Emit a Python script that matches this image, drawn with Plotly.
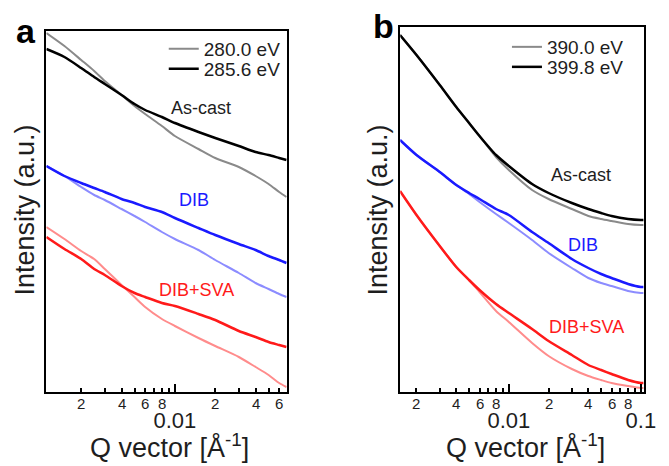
import numpy as np
import plotly.graph_objects as go

# ---------------- data (arbitrary intensity units) ----------------
q_a = [0.0011, 0.0015, 0.002, 0.0025, 0.003, 0.004, 0.005, 0.006, 0.008, 0.01,
       0.015, 0.02, 0.03, 0.04, 0.05, 0.06, 0.068]
a_ascast_280 = [359, 346, 332, 321, 311, 297, 286, 278, 266, 256, 243, 234, 225, 216, 208, 200, 195]
a_ascast_285 = [343, 335, 324, 315, 308, 297, 288, 282, 275, 269, 260, 254, 246, 240, 237, 234, 232]
a_dib_280 = [226, 216, 205, 197, 192, 183, 176, 170, 160, 153, 142, 132, 119, 109, 103, 98, 95]
a_dib_285 = [226, 216, 209, 204, 200, 193, 189, 185, 180, 174, 164, 157, 148, 142, 136, 132, 129]
a_sva_280 = [165, 153, 141, 133, 123, 107, 95, 85, 73, 66, 54, 46, 35, 25, 17, 9, 5]
a_sva_285 = [155, 143, 133, 123, 117, 106, 99, 95, 89, 86, 78, 72, 61, 55, 50, 47, 45]

q_b = [0.0015, 0.002, 0.003, 0.004, 0.005, 0.006, 0.008, 0.01, 0.015, 0.02,
       0.03, 0.04, 0.05, 0.06, 0.08, 0.1, 0.105]
b_ascast_390 = [357, 337, 307, 285, 269, 256, 235, 222, 202, 193, 183, 176, 173, 171, 168, 167, 167]
b_ascast_399 = [357, 337, 307, 285, 269, 256, 237, 226, 208, 199, 189, 183, 179, 176, 173, 172, 172]
b_dib_390 = [252, 237, 220, 207, 198, 190, 178, 169, 152, 139, 124, 114, 109, 106, 101, 99, 99]
b_dib_399 = [252, 237, 220, 207, 199, 193, 183, 177, 160, 149, 133, 124, 118, 114, 108, 105, 105]
b_sva_390 = [201, 177, 146, 125, 112, 100, 81, 70, 49, 36, 23, 16, 12, 9, 6, 4, 4]
b_sva_399 = [201, 177, 146, 125, 112, 102, 88, 79, 63, 51, 37, 27, 22, 18, 12, 9, 9]

minor_a = [0.002, 0.003, 0.004, 0.005, 0.006, 0.007, 0.008, 0.009, 0.02, 0.03, 0.04, 0.05, 0.06]
minor_b = [0.002, 0.003, 0.004, 0.005, 0.006, 0.007, 0.008, 0.009,
           0.02, 0.03, 0.04, 0.05, 0.06, 0.07, 0.08, 0.09]
lab_a_vals = [0.002, 0.004, 0.006, 0.008, 0.02, 0.04, 0.06]
lab_b_vals = [0.002, 0.004, 0.006, 0.008, 0.02, 0.04, 0.06, 0.08]
lab_a_text = ["2", "4", "6", "8", "2", "4", "6"]
lab_b_text = ["2", "4", "6", "8", "2", "4", "6", "8"]

FONT = "Arial, Liberation Sans, sans-serif"
GRAY, BLACK = "#8a8a8a", "#000000"
LBLUE, DBLUE = "#8c8cff", "#1a1aff"
LRED, DRED = "#ff8c8c", "#ff1a1a"
TXT = "#1e1e1e"

fig = go.Figure()

def add(x, y, color, width, xa, ya, name=None, legend=None):
    fig.add_trace(go.Scatter(
        x=x, y=y, mode="lines",
        line=dict(color=color, width=width, shape="spline", smoothing=0.7),
        xaxis=xa, yaxis=ya, name=name or "", showlegend=name is not None,
        legend=legend or "legend", hoverinfo="skip"))

# panel a
add(q_a, a_ascast_280, GRAY, 2, "x", "y", "280.0 eV", "legend")
add(q_a, a_ascast_285, BLACK, 2.5, "x", "y", "285.6 eV", "legend2")
add(q_a, a_dib_280, LBLUE, 2, "x", "y")
add(q_a, a_dib_285, DBLUE, 2.5, "x", "y")
add(q_a, a_sva_280, LRED, 2, "x", "y")
add(q_a, a_sva_285, DRED, 2.5, "x", "y")
# panel b
add(q_b, b_ascast_390, GRAY, 2, "x2", "y2", "390.0 eV", "legend3")
add(q_b, b_ascast_399, BLACK, 2.5, "x2", "y2", "399.8 eV", "legend4")
add(q_b, b_dib_390, LBLUE, 2, "x2", "y2")
add(q_b, b_dib_399, DBLUE, 2.5, "x2", "y2")
add(q_b, b_sva_390, LRED, 2, "x2", "y2")
add(q_b, b_sva_399, DRED, 2.5, "x2", "y2")

W, H = 669, 466
def px(xp): return xp / W
def py(yp): return (H - yp) / H

def xaxis(dom, rng, decade_vals, decade_text, minor_vals, anchor):
    return dict(
        type="log", domain=dom, range=[np.log10(rng[0]), np.log10(rng[1])], anchor=anchor,
        showline=True, linecolor="black", linewidth=1.5, mirror=True,
        showgrid=False, zeroline=False,
        tickmode="array", tickvals=decade_vals, ticktext=decade_text,
        ticks="inside", ticklen=8, tickwidth=1.5, tickcolor="black",
        tickfont=dict(family=FONT, size=22, color=TXT), ticklabelstandoff=8,
        minor=dict(tickmode="array", tickvals=minor_vals, ticks="inside", ticklen=4,
                   tickwidth=1.5, tickcolor="black", showgrid=False),
    )

def yaxis(dom, rng, anchor):
    return dict(domain=dom, range=rng, anchor=anchor, showline=True, linecolor="black",
                linewidth=1.5, mirror=True, showgrid=False, zeroline=False,
                showticklabels=False, ticks="")

def legend(xl, yc):
    return dict(x=px(xl), y=py(yc), xanchor="left", yanchor="middle",
                font=dict(family=FONT, size=19, color=TXT), bgcolor="rgba(0,0,0,0)",
                tracegroupgap=0, itemwidth=30, borderwidth=0)

fig.update_layout(
    width=W, height=H, margin=dict(l=0, r=0, t=0, b=0),
    paper_bgcolor="white", plot_bgcolor="white",
    font=dict(family=FONT, color=TXT),
    xaxis=xaxis([px(47.3), px(292.5)], [0.0011, 0.0684], [0.01], ["0.01"], minor_a, "y"),
    yaxis=yaxis([py(392), py(31)], [0, 361], "x"),
    xaxis2=xaxis([px(408.3), px(656.3)], [0.00151, 0.1047], [0.01, 0.1], ["0.01", "0.1"], minor_b, "y2"),
    yaxis2=yaxis([py(392), py(27)], [0, 365], "x2"),
    legend=legend(167, 49),
    legend2=legend(167, 69),
    legend3=legend(517, 47),
    legend4=legend(517, 67),
)

ann = []
# minor tick labels
for v, t in zip(lab_a_vals, lab_a_text):
    ann.append(dict(x=np.log10(v), xref="x", y=py(403), yref="paper", text=t, showarrow=False,
                    font=dict(family=FONT, size=15, color=TXT), xanchor="center", yanchor="middle"))
for v, t in zip(lab_b_vals, lab_b_text):
    ann.append(dict(x=np.log10(v), xref="x2", y=py(403), yref="paper", text=t, showarrow=False,
                    font=dict(family=FONT, size=15, color=TXT), xanchor="center", yanchor="middle"))
# axis titles
for cx in (px(173), px(536)):
    ann.append(dict(x=cx, y=py(446), xref="paper", yref="paper", showarrow=False,
                    text="Q vector [Å<sup>-1</sup>]", font=dict(family=FONT, size=27, color=TXT),
                    xanchor="center", yanchor="middle"))
for cx, cy in ((px(26), py(210)), (px(386), py(210))):
    ann.append(dict(x=cx, y=cy, xref="paper", yref="paper", showarrow=False, textangle=-90,
                    text="Intensity (a.u.)", font=dict(family=FONT, size=27, color=TXT),
                    xanchor="center", yanchor="middle"))
# panel letters
ann.append(dict(x=px(27), y=py(31), xref="paper", yref="paper", showarrow=False, text="<b>a</b>",
                font=dict(family=FONT, size=34, color="black"), xanchor="center", yanchor="middle"))
ann.append(dict(x=px(391), y=py(26), xref="paper", yref="paper", showarrow=False, text="<b>b</b>",
                font=dict(family=FONT, size=34, color="black"), xanchor="center", yanchor="middle"))
# sample labels
for cx, cy, t, c in [(205, 108, "As-cast", TXT), (198, 200, "DIB", DBLUE), (200, 290, "DIB+SVA", DRED),
                     (593, 175, "As-cast", TXT), (595, 245, "DIB", DBLUE), (598, 327, "DIB+SVA", DRED)]:
    ann.append(dict(x=px(cx), y=py(cy), xref="paper", yref="paper", showarrow=False, text=t,
                    font=dict(family=FONT, size=18, color=c), xanchor="center", yanchor="middle"))
fig.update_layout(annotations=ann)

fig.write_html("out.html")
